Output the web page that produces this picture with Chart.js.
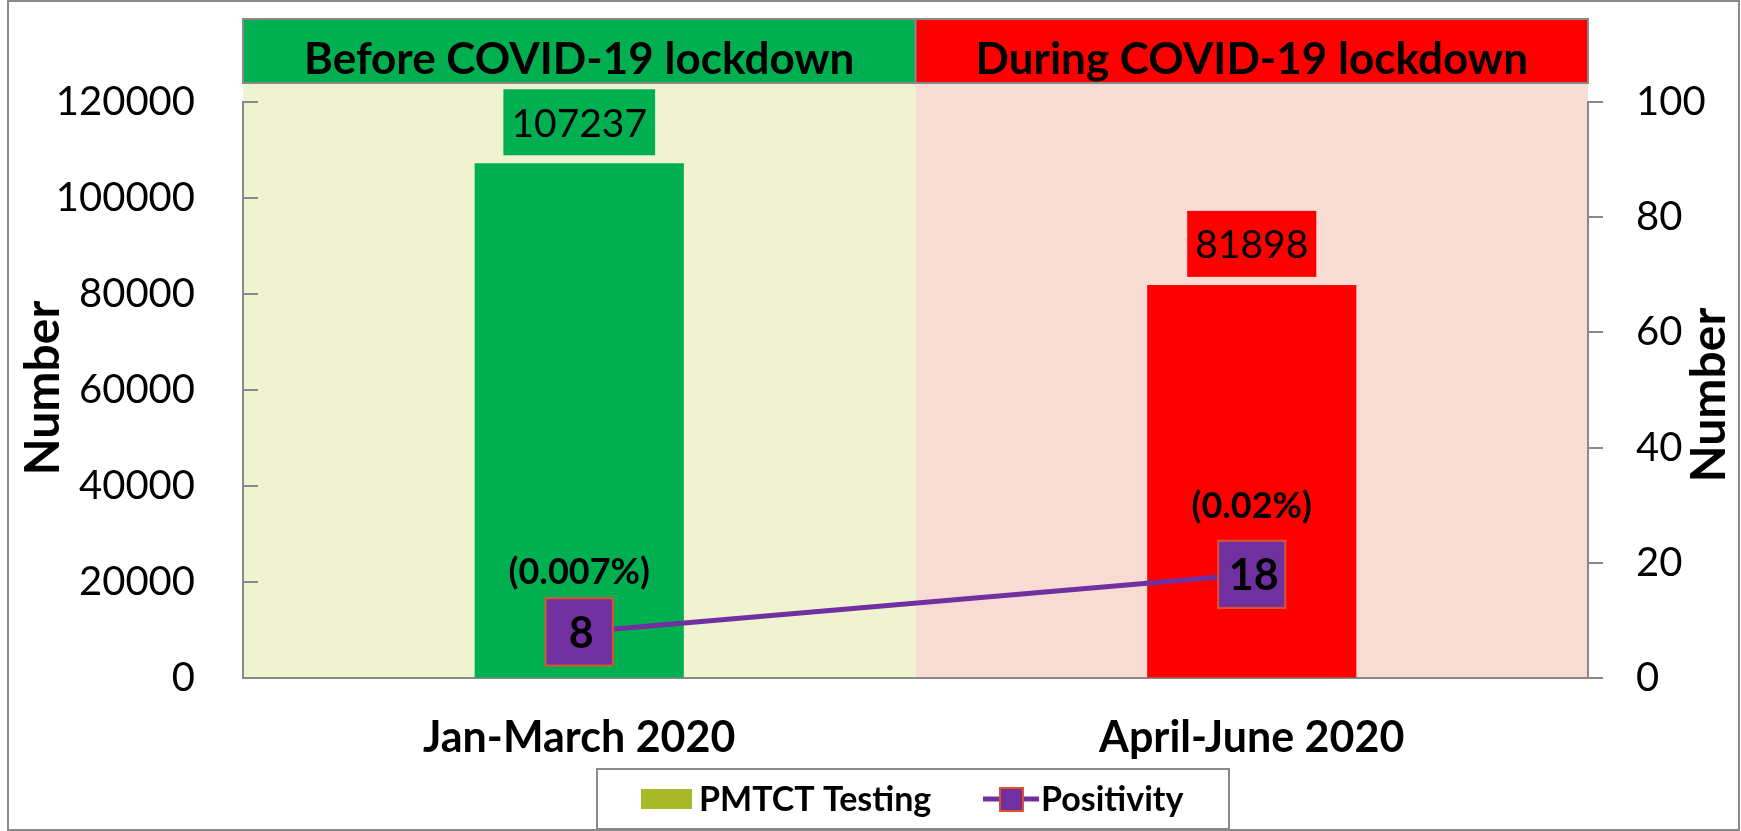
<!DOCTYPE html>
<html><head><meta charset="utf-8">
<script src="https://cdn.jsdelivr.net/npm/chart.js@4/dist/chart.umd.min.js"></script>
<style>html,body{margin:0;padding:0;background:#fff}canvas{display:block}</style>
</head><body>
<canvas id="c" width="1741" height="831"></canvas>
<script>
// ---- data ----
const categories = ['Jan-March 2020', 'April-June 2020'];
const periodLabels = ['Before COVID-19 lockdown', 'During COVID-19 lockdown'];
const testingValues = [107237, 81898];
const positivityValues = [8, 18];
const positivityPercentLabels = ['(0.007%)', '(0.02%)'];
const seriesNames = ['PMTCT Testing', 'Positivity'];
const axisTitle = 'Number';
const leftAxisRange = [0, 120000, 20000];
const rightAxisRange = [0, 100, 20];

// ---- styles ----
const FONT = 'Lato';
const barColors = ['#00B050', '#FF0000'];
const regionColors = ['#EFF3CF', '#F8DCD4'];
const lineColor = '#7030A0';
const markerBorder = '#E0502A';
const legendSwatch = '#A7B828';
const axisGray = '#898989';
const percentOffsets = [60, 68];

const overlay = {
  id: 'overlay',
  beforeDraw(chart) {
    const ctx = chart.ctx, ca = chart.chartArea, x = chart.scales.x;
    ctx.save();
    ctx.fillStyle = '#fff';
    ctx.fillRect(0, 0, chart.width, chart.height);
    const half = (x.getPixelForValue(1) - x.getPixelForValue(0)) / 2;
    const mid = x.getPixelForValue(0) + half;
    const bounds = [[ca.left, mid], [mid, ca.right]];
    const hTop = 19, hBot = 83;
    bounds.forEach((b, i) => {
      ctx.fillStyle = regionColors[i];
      ctx.fillRect(b[0], hBot, b[1] - b[0], ca.bottom - hBot);
      ctx.fillStyle = barColors[i];
      ctx.fillRect(b[0], hTop, b[1] - b[0], hBot - hTop);
    });
    ctx.strokeStyle = axisGray; ctx.lineWidth = 2;
    ctx.strokeRect(ca.left, hTop, ca.right - ca.left, hBot - hTop);
    ctx.beginPath(); ctx.moveTo(mid, hTop); ctx.lineTo(mid, hBot); ctx.stroke();
    ctx.fillStyle = '#000';
    ctx.font = 'bold 44px ' + FONT;
    ctx.textAlign = 'center'; ctx.textBaseline = 'alphabetic';
    bounds.forEach((b, i) => ctx.fillText(periodLabels[i], (b[0] + b[1]) / 2, 74));
    ctx.restore();
  },
  beforeDatasetsDraw(chart) {
    // inward tick marks on left axis
    const ctx = chart.ctx, y = chart.scales.y;
    ctx.save();
    ctx.strokeStyle = axisGray; ctx.lineWidth = 2;
    y.ticks.forEach(t => {
      const py = y.getPixelForValue(t.value);
      ctx.beginPath(); ctx.moveTo(y.right - 1, py); ctx.lineTo(y.right + 15, py); ctx.stroke();
    });
    ctx.restore();
  },
  afterDatasetsDraw(chart) {
    const ctx = chart.ctx;
    ctx.save();
    // bar value boxes
    const barMeta = chart.getDatasetMeta(1);
    ctx.font = '39px ' + FONT;
    barMeta.data.forEach((el, i) => {
      const txt = String(testingValues[i]);
      const w = ctx.measureText(txt).width + 16, h = 66;
      const top = el.y - 8 - h;
      ctx.fillStyle = barColors[i];
      ctx.fillRect(el.x - w / 2, top, w, h);
      ctx.fillStyle = '#000';
      ctx.textAlign = 'center'; ctx.textBaseline = 'middle';
      ctx.fillText(txt, el.x, top + h / 2 + 2);
    });
    // marker numbers and percent labels
    const lineMeta = chart.getDatasetMeta(0);
    lineMeta.data.forEach((el, i) => {
      ctx.fillStyle = '#000';
      ctx.textAlign = 'center'; ctx.textBaseline = 'middle';
      ctx.font = 'bold 43px ' + FONT;
      ctx.fillText(String(positivityValues[i]), el.x + 2, el.y + 2);
      ctx.font = 'bold 36px ' + FONT;
      ctx.fillText(positivityPercentLabels[i], el.x, el.y - percentOffsets[i]);
    });
    ctx.restore();
  },
  afterDraw(chart) {
    const ctx = chart.ctx;
    ctx.save();
    // axis titles
    ctx.fillStyle = '#000';
    ctx.font = 'bold 48px ' + FONT;
    ctx.textAlign = 'center'; ctx.textBaseline = 'middle';
    [[44, 388], [1710, 395]].forEach(p => {
      ctx.save(); ctx.translate(p[0], p[1]); ctx.rotate(-Math.PI / 2);
      ctx.fillText(axisTitle, 0, 0); ctx.restore();
    });
    // legend
    ctx.strokeStyle = axisGray; ctx.lineWidth = 2;
    ctx.strokeRect(597, 769, 632, 60);
    ctx.fillStyle = legendSwatch;
    ctx.fillRect(641, 789, 51, 20);
    ctx.fillStyle = '#000';
    ctx.font = 'bold 34px ' + FONT;
    ctx.textAlign = 'left'; ctx.textBaseline = 'middle';
    ctx.fillText(seriesNames[0], 699, 800);
    ctx.strokeStyle = lineColor; ctx.lineWidth = 5;
    ctx.beginPath(); ctx.moveTo(983, 799); ctx.lineTo(1039, 799); ctx.stroke();
    ctx.fillStyle = lineColor; ctx.fillRect(1000, 788, 23, 23);
    ctx.strokeStyle = markerBorder; ctx.lineWidth = 2; ctx.strokeRect(1000, 788, 23, 23);
    ctx.fillStyle = '#000';
    ctx.fillText(seriesNames[1], 1041, 800);
    // outer frame
    ctx.strokeStyle = axisGray; ctx.lineWidth = 2;
    ctx.strokeRect(8, 1, 1731, 829);
    ctx.restore();
  }
};

Chart.defaults.font.family = FONT;
Chart.defaults.color = '#000';

new Chart(document.getElementById('c'), {
  type: 'bar',
  data: {
    labels: categories,
    datasets: [
      {
        type: 'line', label: seriesNames[1], data: positivityValues, yAxisID: 'y1', order: 0,
        borderColor: lineColor, borderWidth: 5, tension: 0,
        pointStyle: 'rect', pointRadius: 47.5, pointHoverRadius: 47.5,
        pointBackgroundColor: lineColor, pointBorderColor: markerBorder, pointBorderWidth: 2
      },
      {
        type: 'bar', label: seriesNames[0], data: testingValues, yAxisID: 'y', order: 1,
        backgroundColor: barColors, borderWidth: 0,
        barPercentage: 0.311, categoryPercentage: 1
      }
    ]
  },
  options: {
    responsive: false, animation: false, devicePixelRatio: 1,
    layout: { padding: { top: 102, left: 0, right: 0, bottom: 0 } },
    plugins: { legend: { display: false }, tooltip: { enabled: false }, title: { display: false } },
    scales: {
      x: {
        offset: true,
        grid: { display: false, drawTicks: false },
        border: { display: true, color: axisGray, width: 2 },
        ticks: { font: { size: 43, weight: 'bold' }, color: '#000', padding: 34, maxRotation: 0 },
        afterFit(s) { s.height = 153; }
      },
      y: {
        position: 'left', min: leftAxisRange[0], max: leftAxisRange[1],
        grid: { drawOnChartArea: false, drawTicks: false },
        border: { display: true, color: axisGray, width: 2 },
        ticks: { stepSize: leftAxisRange[2], font: { size: 40 }, color: '#000', padding: 48,
                 callback: v => String(v) },
        afterFit(s) { s.width = 243; }
      },
      y1: {
        position: 'right', min: rightAxisRange[0], max: rightAxisRange[1],
        grid: { drawOnChartArea: false, drawTicks: true, tickLength: 15, color: axisGray, lineWidth: 2 },
        border: { display: true, color: axisGray, width: 2 },
        ticks: { stepSize: rightAxisRange[2], font: { size: 40 }, color: '#000', padding: 33,
                 callback: v => String(v) },
        afterFit(s) { s.width = 153; }
      }
    }
  },
  plugins: [overlay]
});
</script>
</body></html>
